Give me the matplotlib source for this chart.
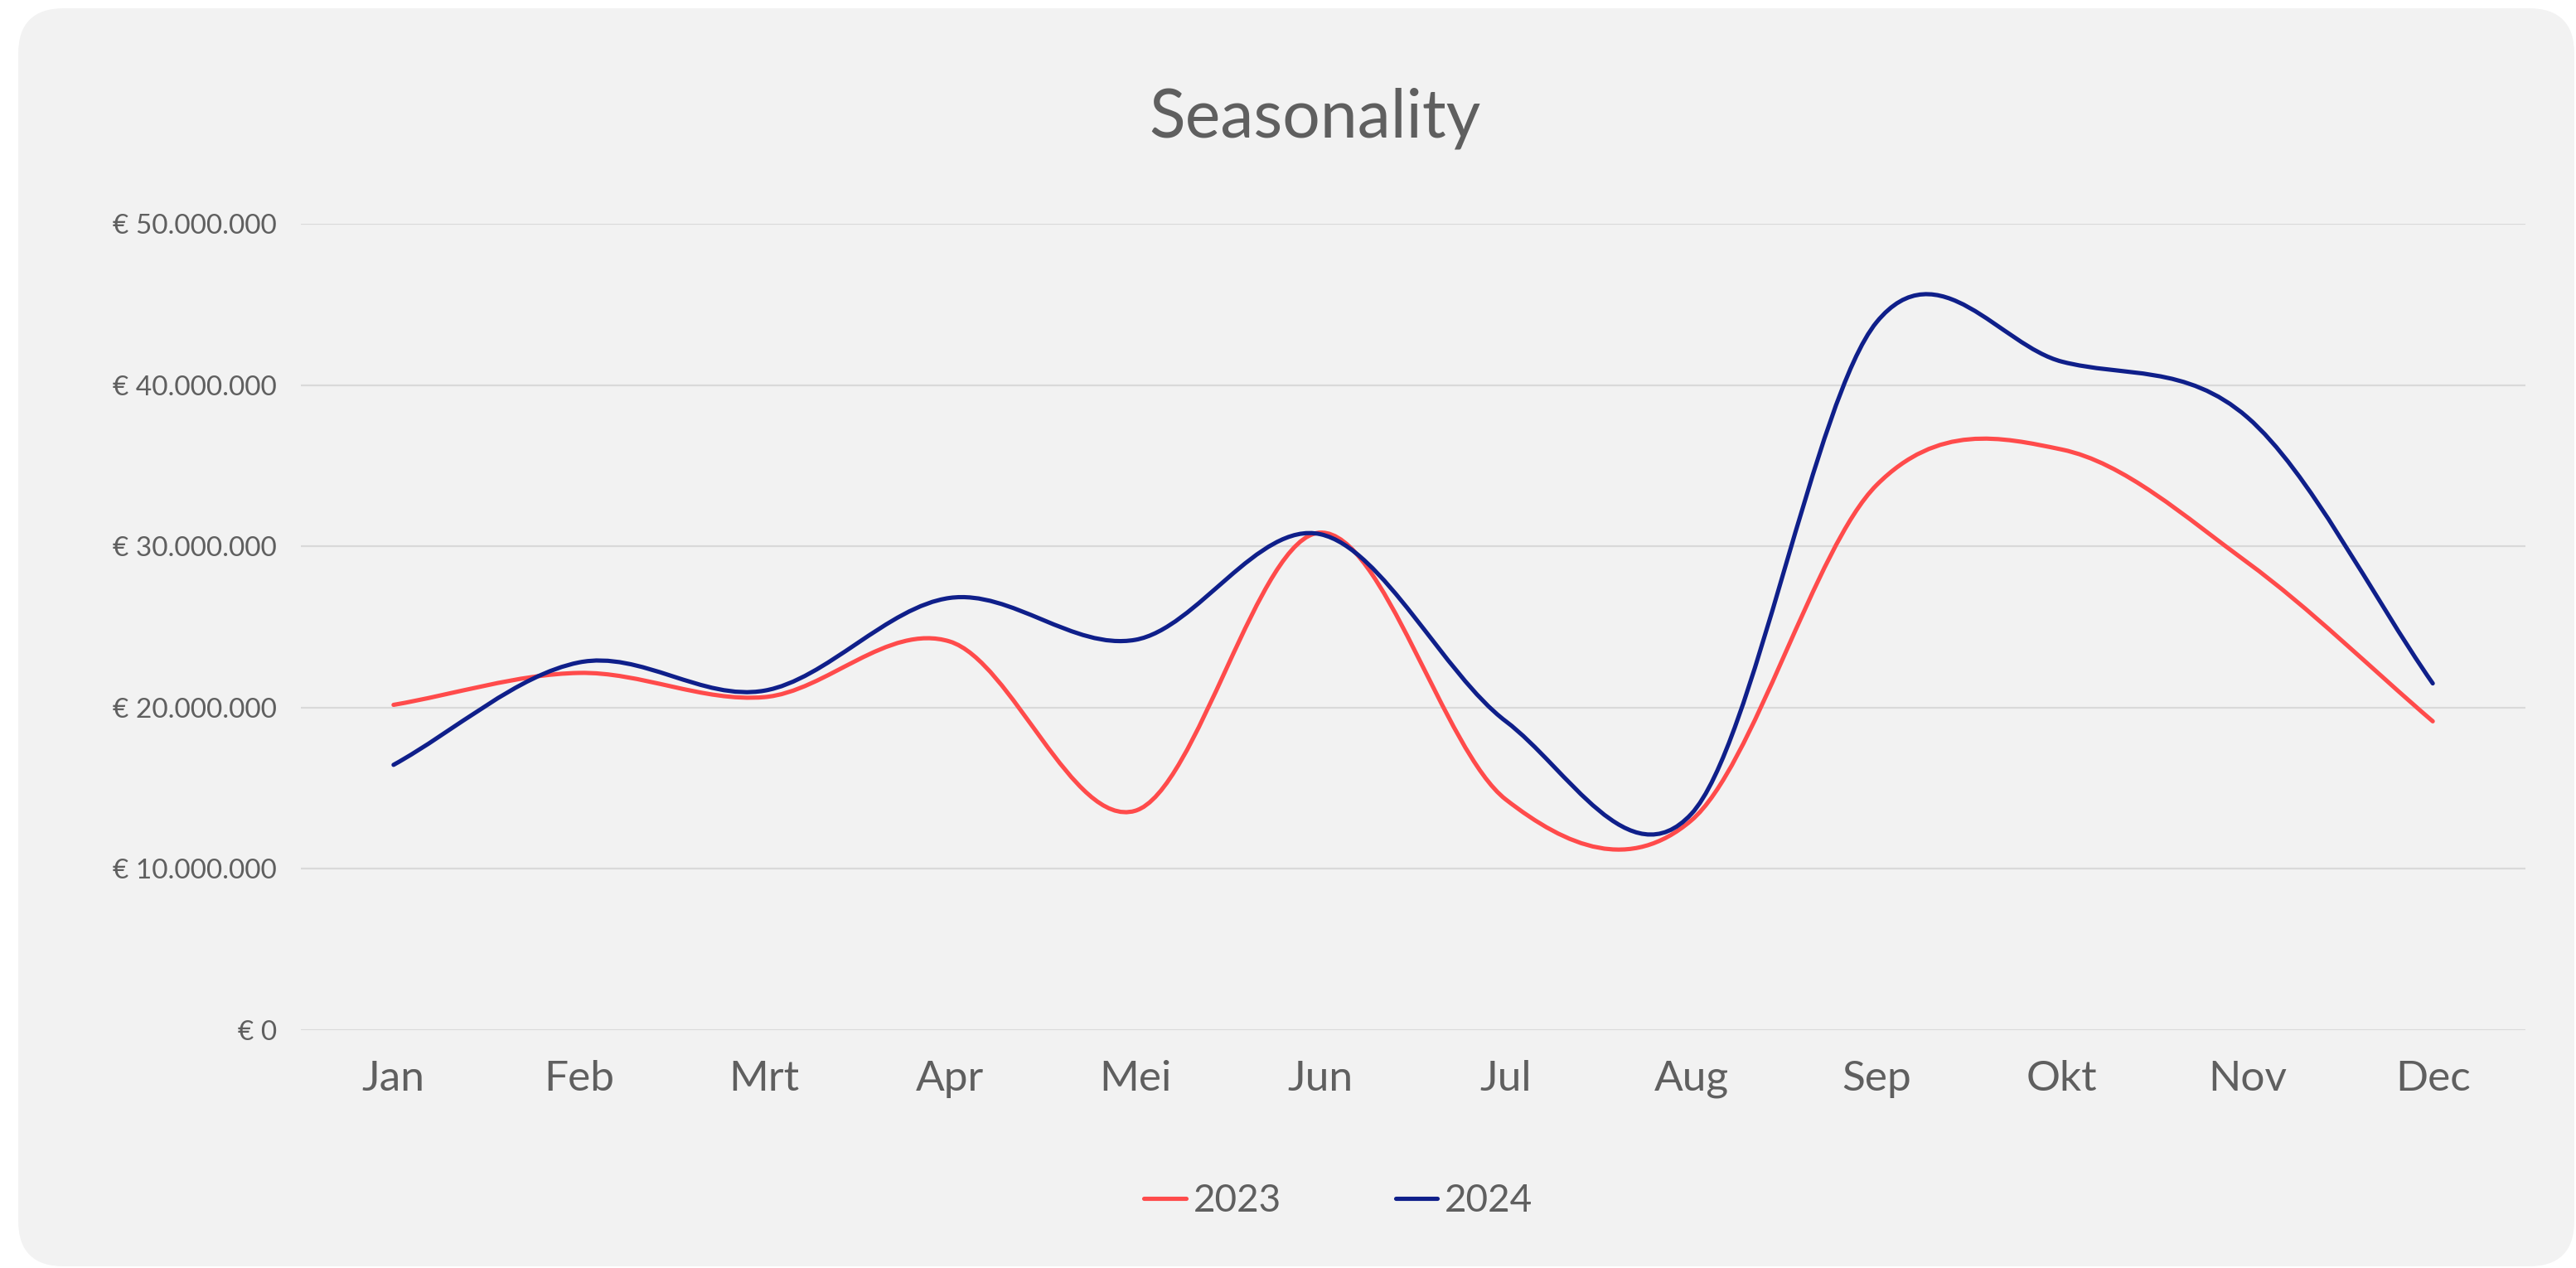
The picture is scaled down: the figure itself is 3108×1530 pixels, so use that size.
import numpy as np
import matplotlib
matplotlib.use("Agg")
import matplotlib.pyplot as plt
from matplotlib.path import Path
from matplotlib.patches import PathPatch, FancyBboxPatch
from matplotlib.lines import Line2D
from matplotlib.ticker import FuncFormatter, MultipleLocator

plt.rcParams['font.family'] = ['Lato', 'DejaVu Sans']

# data (values in euro)
months = ["Jan", "Feb", "Mrt", "Apr", "Mei", "Jun", "Jul", "Aug", "Sep", "Okt", "Nov", "Dec"]
sales_2023 = [20.17e6, 22.15e6, 20.65e6, 24.1e6, 13.6e6, 30.85e6, 14.3e6, 13.0e6, 33.8e6, 36.0e6, 29.0e6, 19.15e6]
sales_2024 = [16.45e6, 22.8e6, 21.05e6, 26.8e6, 24.2e6, 30.75e6, 19.15e6, 13.4e6, 43.9e6, 41.45e6, 38.0e6, 21.5e6]
series_names = ["2023", "2024"]
series_colors = ["#ff4b4b", "#0f1f8a"]

W, H = 3108, 1530
text_col = "#5f5f5f"


def smooth_path(xs, ys):
    # cardinal (catmull-rom) spline as cubic bezier segments
    xs = np.asarray(xs, float)
    ys = np.asarray(ys, float)
    n = len(xs)
    m = np.zeros(n)
    m[0] = (ys[1] - ys[0]) / (xs[1] - xs[0])
    m[-1] = (ys[-1] - ys[-2]) / (xs[-1] - xs[-2])
    for i in range(1, n - 1):
        m[i] = (ys[i + 1] - ys[i - 1]) / (xs[i + 1] - xs[i - 1])
    verts = [(xs[0], ys[0])]
    codes = [Path.MOVETO]
    for i in range(n - 1):
        dx = xs[i + 1] - xs[i]
        verts += [(xs[i] + dx / 3, ys[i] + m[i] * dx / 3),
                  (xs[i + 1] - dx / 3, ys[i + 1] - m[i + 1] * dx / 3),
                  (xs[i + 1], ys[i + 1])]
        codes += [Path.CURVE4] * 3
    return Path(verts, codes)


fig = plt.figure(figsize=(W / 100, H / 100), dpi=100)
fig.patch.set_facecolor("white")

# rounded card behind the chart (inches)
bg = FancyBboxPatch((0.22, 0.02), 30.84, 15.18,
                    boxstyle="round,pad=0,rounding_size=0.55",
                    transform=fig.dpi_scale_trans, facecolor="#f2f2f2",
                    edgecolor="none", zorder=-5)
fig.patches.append(bg)

ax = fig.add_axes([363 / W, (H - 1243) / H, 2684 / W, 973 / H])
ax.set_facecolor("none")

x = np.arange(len(months))
for vals, name, col in zip([sales_2023, sales_2024], series_names, series_colors):
    p = PathPatch(smooth_path(x, vals), facecolor="none", edgecolor=col,
                  linewidth=3.7, capstyle="round", joinstyle="round", zorder=3)
    ax.add_patch(p)

ax.set_xlim(-0.5, 11.5)
ax.set_ylim(0, 50e6)
ax.yaxis.set_major_locator(MultipleLocator(10e6))
ax.yaxis.set_major_formatter(FuncFormatter(lambda v, _: "€ " + f"{v:,.0f}".replace(",", ".")))
ax.set_xticks(x)
ax.set_xticklabels(months)
ax.grid(axis="y", color="#d9d9d9", linewidth=1.6)
ax.set_axisbelow(True)
for s in ax.spines.values():
    s.set_visible(False)
ax.tick_params(axis="y", length=0, pad=21, labelsize=24, labelcolor=text_col)
ax.tick_params(axis="x", length=0, pad=26, labelsize=37, labelcolor=text_col)

fig.text(1586 / W, 1 - 143 / H, "Seasonality", ha="center", va="center",
         fontsize=58, color=text_col)

handles = [Line2D([], [], color=c, linewidth=3.7, solid_capstyle="round") for c in series_colors]
fig.legend(handles, series_names, loc="center", bbox_to_anchor=(1615 / W, 1 - 1449 / H),
           ncol=2, frameon=False, fontsize=33, labelcolor=text_col,
           handlelength=1.1, handletextpad=0.2, columnspacing=3.0)

fig.savefig("out.png", dpi=100, facecolor="white")
